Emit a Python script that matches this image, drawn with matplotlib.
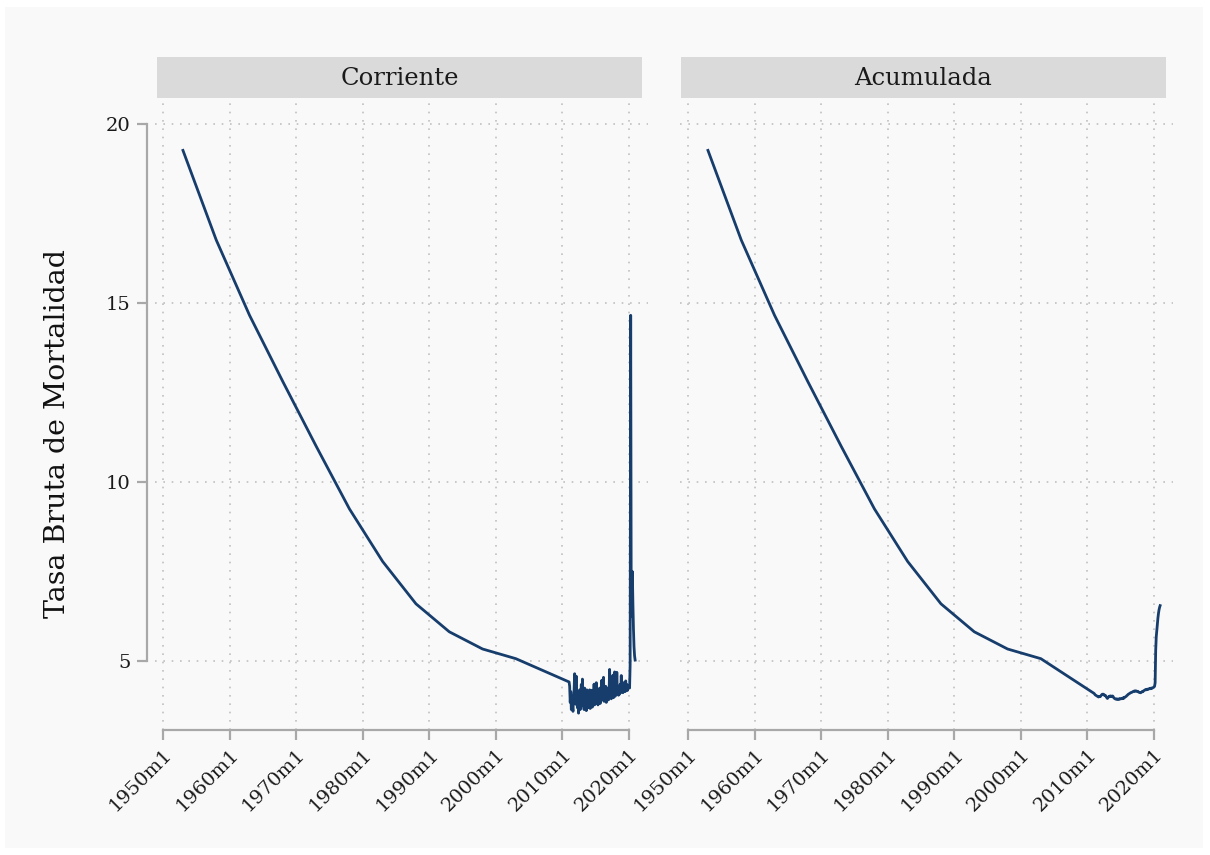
import matplotlib
matplotlib.use("Agg")
import matplotlib.pyplot as plt
import matplotlib.patches as patches

plt.rcParams['font.family'] = ['DejaVu Serif']

# Tasa quinquenal (común a ambos paneles)
anios_quinq = [1953, 1958, 1963, 1968, 1973, 1978, 1983, 1988, 1993, 1998, 2003]
tasa_quinq = [19.25, 16.75, 14.65, 12.8, 11.0, 9.25, 7.78, 6.6, 5.82, 5.34, 5.07]

# Serie mensual 2011m1-2020m12
anios_mens = list(range(2011, 2021))

corriente = {
    2011: [4.42, 4.30, 3.85, 4.15, 3.65, 4.05, 3.75, 3.60, 4.00, 4.20, 4.65, 4.05],
    2012: [3.80, 4.58, 3.95, 3.70, 4.10, 3.55, 3.90, 4.20, 3.65, 3.95, 4.35, 3.75],
    2013: [4.50, 3.90, 4.10, 3.65, 4.25, 3.80, 4.05, 3.62, 4.20, 3.85, 3.70, 4.15],
    2014: [3.75, 4.20, 3.68, 4.05, 3.80, 4.19, 3.72, 4.00, 3.85, 4.36, 3.78, 4.10],
    2015: [3.82, 4.40, 3.90, 4.15, 3.78, 4.05, 3.88, 4.25, 3.82, 4.10, 3.95, 4.47],
    2016: [3.92, 4.20, 4.55, 3.88, 4.10, 3.92, 4.30, 3.85, 4.15, 3.98, 4.25, 3.92],
    2017: [4.08, 4.77, 4.02, 4.20, 3.95, 4.30, 4.05, 4.61, 3.98, 4.25, 4.70, 4.02],
    2018: [4.18, 4.08, 4.69, 4.12, 4.30, 4.05, 4.25, 4.08, 4.35, 4.12, 4.60, 4.18],
    2019: [4.22, 4.12, 4.40, 4.18, 4.30, 4.15, 4.45, 4.20, 4.35, 4.18, 4.30, 4.25],
    2020: [4.30, 4.25, 4.90, 14.65, 6.25, 6.90, 7.50, 6.60, 5.90, 5.40, 5.15, 5.03],
}

acumulada = {
    2011: [4.10, 4.08, 4.06, 4.05, 4.04, 4.03, 4.02, 4.01, 4.00, 4.02, 4.01, 4.01],
    2012: [4.03, 4.05, 4.07, 4.08, 4.07, 4.08, 4.06, 4.04, 4.05, 4.03, 4.00, 3.98],
    2013: [3.96, 3.98, 4.00, 4.02, 4.01, 4.03, 4.03, 4.02, 4.01, 4.03, 4.02, 3.99],
    2014: [3.97, 3.96, 3.95, 3.94, 3.94, 3.95, 3.94, 3.93, 3.94, 3.95, 3.94, 3.95],
    2015: [3.95, 3.96, 3.95, 3.97, 3.96, 3.98, 3.97, 3.99, 4.00, 4.01, 4.02, 4.04],
    2016: [4.05, 4.07, 4.08, 4.09, 4.10, 4.11, 4.12, 4.13, 4.13, 4.14, 4.15, 4.16],
    2017: [4.16, 4.17, 4.16, 4.17, 4.17, 4.16, 4.15, 4.16, 4.14, 4.13, 4.13, 4.12],
    2018: [4.12, 4.13, 4.14, 4.16, 4.15, 4.17, 4.18, 4.19, 4.20, 4.21, 4.20, 4.21],
    2019: [4.22, 4.21, 4.22, 4.23, 4.24, 4.23, 4.24, 4.25, 4.24, 4.25, 4.26, 4.27],
    2020: [4.28, 4.30, 4.40, 5.30, 5.68, 5.86, 6.05, 6.20, 6.33, 6.43, 6.50, 6.55],
}

paneles = ['Corriente', 'Acumulada']
ticks_x = list(range(1950, 2021, 10))
etiquetas_x = [f'{a}m1' for a in ticks_x]
ticks_y = [5, 10, 15, 20]

color_linea = '#163d6c'
color_eje = '#a8a8a8'
color_grid = '#c0c0c0'

W, H = 1210, 855
fig = plt.figure(figsize=(W / 100, H / 100), dpi=100)
fig.patch.set_facecolor('white')
fig.patches.append(patches.Rectangle((5 / W, 1 - 848 / H), 1198 / W, 841 / H,
                                     transform=fig.transFigure, facecolor='#f9f9f9',
                                     edgecolor='none', zorder=-10))


def serie(datos):
    x = list(anios_quinq)
    y = list(tasa_quinq)
    for a in anios_mens:
        for m, v in enumerate(datos[a]):
            x.append(a + m / 12)
            y.append(v)
    return x, y


for i, (nombre, datos) in enumerate(zip(paneles, [corriente, acumulada])):
    x0 = 147 + 525 * i
    ax = fig.add_axes([x0 / W, 1 - 730 / H, 501 / W, 628 / H])
    ax.set_facecolor('none')
    x, y = serie(datos)
    ax.plot(x, y, color=color_linea, lw=2.0, solid_joinstyle='round', zorder=3)

    ax.set_xlim(1947.6, 2022.85)
    ax.set_ylim(3.08, 20.6)
    ax.set_xticks(ticks_x)
    ax.set_xticklabels(etiquetas_x, rotation=45, ha='right', va='top',
                       rotation_mode='anchor', fontsize=14, color='#1a1a1a')
    ax.set_yticks(ticks_y)

    # rejilla punteada
    for t in ticks_x:
        ax.axvline(t, color=color_grid, lw=1.2, ls=(0, (1, 4)), zorder=1)
    for t in ticks_y:
        ax.axhline(t, xmin=0.015, color=color_grid, lw=1.2, ls=(0, (1, 4)), zorder=1)

    for s in ['top', 'right']:
        ax.spines[s].set_visible(False)
    ax.spines['bottom'].set_bounds(1950, 2020)
    ax.spines['bottom'].set_color(color_eje)
    ax.spines['bottom'].set_linewidth(1.6)
    ax.tick_params(axis='x', length=7, width=1.6, color=color_eje, pad=4)

    if i == 0:
        ax.spines['left'].set_bounds(5, 20)
        ax.spines['left'].set_color(color_eje)
        ax.spines['left'].set_linewidth(1.6)
        ax.set_yticklabels([str(t) for t in ticks_y], fontsize=14, color='#1a1a1a')
        ax.tick_params(axis='y', length=7, width=1.6, color=color_eje, pad=5)
    else:
        ax.spines['left'].set_visible(False)
        ax.tick_params(axis='y', length=0, labelleft=False)

    # franja del título del panel
    sx = 157 + 524 * i
    fig.patches.append(patches.Rectangle((sx / W, 1 - 98 / H), 485 / W, 41 / H,
                                         transform=fig.transFigure, facecolor='#dadada',
                                         edgecolor='none', zorder=1))
    fig.text((sx + 242.5) / W, 1 - 78 / H, nombre, ha='center', va='center',
             fontsize=17.5, color='#1a1a1a')

fig.text(58 / W, 1 - 434 / H, 'Tasa Bruta de Mortalidad', rotation=90,
         ha='center', va='center', fontsize=20.5, color='#111111')

fig.savefig('out.png', dpi=100)
